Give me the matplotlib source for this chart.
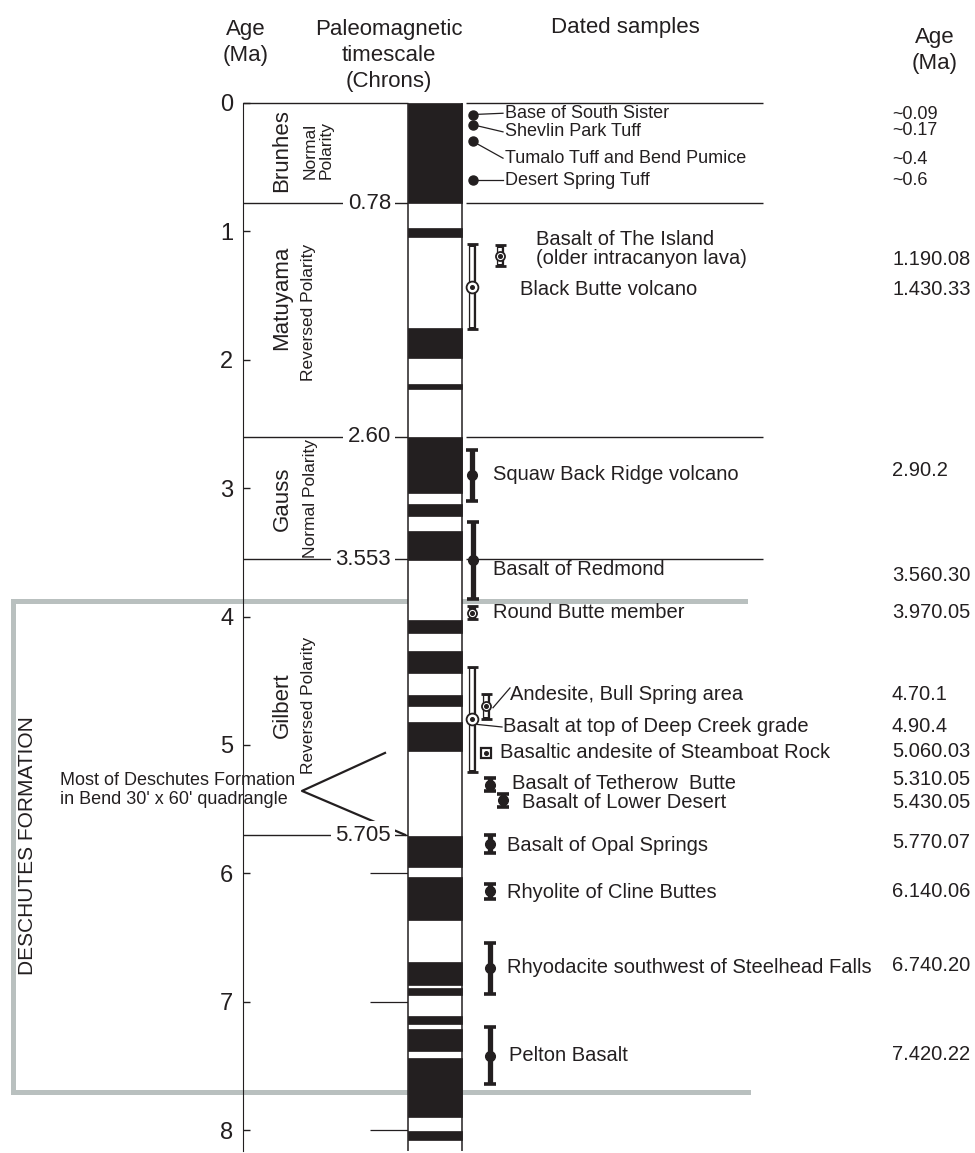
import matplotlib.pyplot as plt

plt.rcParams['font.family'] = ['Liberation Sans', 'DejaVu Sans']

# ---------------- data ----------------
age_ticks = [0, 1, 2, 3, 4, 5, 6, 7, 8]

# normal-polarity (black) intervals of the timescale, Ma
normal_start = [0.00, 0.97, 1.75, 2.19, 2.60, 3.12, 3.33, 4.03, 4.27, 4.61, 4.82,
                5.71, 6.03, 6.69, 6.89, 7.11, 7.21, 7.44, 8.01]
normal_end = [0.78, 1.04, 1.99, 2.23, 3.04, 3.22, 3.56, 4.13, 4.44, 4.70, 5.05,
              5.95, 6.36, 6.87, 6.95, 7.17, 7.38, 7.90, 8.08]

chron_names = ["Brunhes", "Matuyama", "Gauss", "Gilbert"]
chron_polarity = ["Normal\nPolarity", "Reversed Polarity", "Normal Polarity", "Reversed Polarity"]
chron_bounds = [0.78, 2.60, 3.553, 5.705]
chron_bound_labels = ["0.78", "2.60", "3.553", "5.705"]

# young tuffs (dots only)
tuff_names = ["Base of South Sister", "Shevlin Park Tuff",
              "Tumalo Tuff and Bend Pumice", "Desert Spring Tuff"]
tuff_ages = [0.09, 0.17, 0.30, 0.60]
tuff_age_text = ["~0.09", "~0.17", "~0.4", "~0.6"]

# dated samples with error bars
sample_names = ["Basalt of The Island\n(older intracanyon lava)", "Black Butte volcano",
                "Squaw Back Ridge volcano", "Basalt of Redmond", "Round Butte member",
                "Andesite, Bull Spring area", "Basalt at top of Deep Creek grade",
                "Basaltic andesite of Steamboat Rock", "Basalt of Tetherow  Butte",
                "Basalt of Lower Desert", "Basalt of Opal Springs", "Rhyolite of Cline Buttes",
                "Rhyodacite southwest of Steelhead Falls", "Pelton Basalt"]
sample_age = [1.19, 1.43, 2.90, 3.56, 3.97, 4.70, 4.80, 5.06, 5.31, 5.43, 5.77, 6.14, 6.74, 7.42]
sample_err = [0.08, 0.33, 0.20, 0.30, 0.05, 0.10, 0.41, 0.03, 0.05, 0.05, 0.07, 0.06, 0.20, 0.22]
sample_age_text = ["1.190.08", "1.430.33", "2.90.2", "3.560.30", "3.970.05", "4.70.1", "4.90.4",
                   "5.060.03", "5.310.05", "5.430.05", "5.770.07", "6.140.06", "6.740.20", "7.420.22"]
sample_open = [True, True, False, False, True, True, True, True,
               False, False, False, False, False, False]

# ---------------- layout (x in pixels, y in Ma) ----------------
dark = '#231f20'
grey = '#b9c0bf'
axis_x = 243
col_l, col_r = 408, 462
line_r = 763

tuff_text_y = [0.08, 0.225, 0.43, 0.60]
tuff_val_y = [0.09, 0.215, 0.44, 0.60]
sym_x = [500, 472, 472, 473, 472, 486, 472, 486, 490, 503, 490, 490, 490, 490]
lab_x = [536, 520, 493, 493, 493, 510, 503, 500, 512, 522, 507, 507, 507, 509]
lab_y = [1.135, 1.455, 2.89, 3.63, 3.97, 4.61, 4.86, 5.06, 5.30, 5.45, 5.78, 6.15, 6.73, 7.42]
val_y = [1.22, 1.455, 2.86, 3.68, 3.97, 4.61, 4.86, 5.05, 5.27, 5.45, 5.76, 6.14, 6.72, 7.41]
val_x = 892

fig = plt.figure(figsize=(9.75, 11.53), dpi=100)
ax = fig.add_axes([0, 0, 1, 1])
ax.set_xlim(0, 975)
ax.set_ylim(8.178, -0.802)

# age axis
for side in ['top', 'right', 'bottom']:
    ax.spines[side].set_visible(False)
ax.spines['left'].set_position(('data', axis_x))
ax.spines['left'].set_bounds(0, 8.16)
ax.spines['left'].set_color(dark)
ax.xaxis.set_visible(False)
ax.set_yticks(age_ticks)
ax.tick_params(axis='y', direction='in', length=5, width=1, color=dark,
               labelsize=17, pad=7, labelcolor=dark)
ax.hlines([6, 7, 8], 370, col_l, color=dark, lw=0.9)

# Deschutes Formation bracket
ax.plot([745, 13, 13, 748], [3.88, 3.88, 7.70, 7.70], color=grey, lw=3.6,
        solid_joinstyle='miter', zorder=1)
ax.text(28, 5.78, "DESCHUTES FORMATION", rotation=90, ha='center', va='center',
        fontsize=15, color=dark)
ax.text(60, 5.35, "Most of Deschutes Formation\nin Bend 30' x 60' quadrangle",
        ha='left', va='center', fontsize=13, color=dark, linespacing=1.1)
ax.plot([385, 302, 405], [5.062, 5.358, 5.70], color=dark, lw=1.6, zorder=2)

# paleomagnetic column
ax.bar(435, 8.2, bottom=0, width=col_r - col_l, color='white', zorder=3)
for s, e in zip(normal_start, normal_end):
    ax.bar(435, e - s, bottom=s, width=col_r - col_l, color=dark,
           edgecolor=dark, lw=0.5, zorder=4)
ax.vlines([col_l, col_r], 0, 8.16, color=dark, lw=1.1, zorder=5)

# chron boundaries
ax.hlines(0, axis_x, col_l, color=dark, lw=1.0)
ax.hlines(0, 466, line_r, color=dark, lw=1.0)
for b, lab in zip(chron_bounds, chron_bound_labels):
    ax.hlines(b, axis_x, col_l, color=dark, lw=1.0, zorder=2)
    if b < 5:
        ax.hlines(b, 466, line_r, color=dark, lw=1.0, zorder=2)
    ax.text(391, b, lab, ha='right', va='center', fontsize=16, color=dark, zorder=6,
            bbox=dict(boxstyle='square,pad=0.2', fc='white', ec='none'))

name_y = [0.37, 1.52, 3.08, 4.69]
pol_y = [0.37, 1.63, 3.08, 4.69]
pol_x = [318, 309, 310, 308]
for nm, pol, ny, py, px in zip(chron_names, chron_polarity, name_y, pol_y, pol_x):
    ax.text(282, ny, nm, rotation=90, ha='center', va='center', fontsize=16, color=dark)
    ax.text(px, py, pol, rotation=90, ha='center', va='center', fontsize=12.5,
            color=dark, multialignment='center', linespacing=1.1)

# headers
ax.text(246, -0.47, "Age\n(Ma)", ha='center', va='center', fontsize=16, color=dark,
        linespacing=1.3)
ax.text(389, -0.37, "Paleomagnetic\ntimescale\n(Chrons)", ha='center', va='center',
        fontsize=16, color=dark, linespacing=1.3)
ax.text(625, -0.59, "Dated samples", ha='center', va='center', fontsize=16, color=dark)
ax.text(935, -0.41, "Age\n(Ma)", ha='center', va='center', fontsize=16, color=dark,
        linespacing=1.3)

# young tuffs
for nm, a, ty, vy, txt in zip(tuff_names, tuff_ages, tuff_text_y, tuff_val_y, tuff_age_text):
    ax.plot(473, a, 'o', color=dark, ms=6.5, zorder=6)
    ax.plot([473, 503], [a, ty], color=dark, lw=0.9, zorder=5)
    ax.text(505, ty, nm, ha='left', va='center', fontsize=13, color=dark)
    ax.text(val_x, vy, txt, ha='left', va='center', fontsize=13, color=dark)

# leader lines for the open symbols
ax.plot([493, 510], [4.71, 4.556], color=dark, lw=0.9)
ax.plot([477, 502], [4.84, 4.86], color=dark, lw=0.9)

# dated samples
for i in range(len(sample_names)):
    x, c, e = sym_x[i], sample_age[i], sample_err[i]
    if sample_open[i]:
        if e < 0.04:
            ax.plot(x, c, 's', ms=7, mfc='white', mec=dark, mew=1.6, zorder=7)
        else:
            ax.vlines(x, c - e, c + e, color=dark, lw=5.2, zorder=6)
            ax.vlines(x, c - e + 0.018, c + e - 0.018, color='white', lw=2.6, zorder=7)
            ax.hlines([c - e, c + e], x - 5.5, x + 5.5, color=dark, lw=2.0, zorder=7)
            ms = 8.5 if e > 0.15 else 6.5
            ax.plot(x, c, 'o', ms=ms, mfc='white', mec=dark, mew=1.3, zorder=8)
        ax.plot(x, c, 'o', ms=2.6, color=dark, zorder=9)
    else:
        ax.errorbar(x, c, yerr=e, fmt='o', color=dark, ms=7, elinewidth=3.8,
                    capsize=4.5, capthick=2.6, zorder=6)
    ax.text(lab_x[i], lab_y[i], sample_names[i], ha='left', va='center', fontsize=14.5,
            color=dark, linespacing=1.0)
    ax.text(val_x, val_y[i], sample_age_text[i], ha='left', va='center', fontsize=14.5,
            color=dark)

fig.savefig('out.png', dpi=100)
